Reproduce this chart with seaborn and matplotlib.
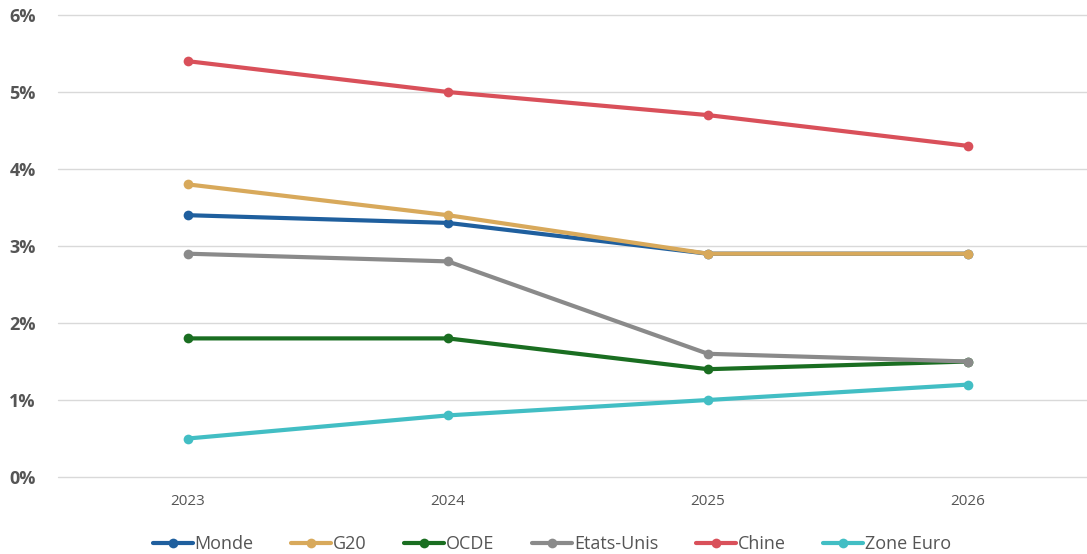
import numpy as np
import pandas as pd
import matplotlib.pyplot as plt
import seaborn as sns

years = ['2023', '2024', '2025', '2026']
series_names = ['Monde', 'G20', 'OCDE', 'Etats-Unis', 'Chine', 'Zone Euro']
monde = [3.4, 3.3, 2.9, 2.9]
g20 = [3.8, 3.4, 2.9, 2.9]
ocde = [1.8, 1.8, 1.4, 1.5]
etats_unis = [2.9, 2.8, 1.6, 1.5]
chine = [5.4, 5.0, 4.7, 4.3]
zone_euro = [0.5, 0.8, 1.0, 1.2]
y_ticks = [0, 1, 2, 3, 4, 5, 6]
y_labels = ['0%', '1%', '2%', '3%', '4%', '5%', '6%']

colors = ['#1f5f9e', '#d8a95b', '#1a6e21', '#8a8a8a', '#d9505a', '#42bec4']

values = [monde, g20, ocde, etats_unis, chine, zone_euro]
rows = []
for name, vals in zip(series_names, values):
    for i, v in enumerate(vals):
        rows.append({'annee': i, 'serie': name, 'valeur': v})
df = pd.DataFrame(rows)

sns.set_style('white')
plt.rcParams['font.family'] = ['Open Sans', 'DejaVu Sans']

fig = plt.figure(figsize=(10.87, 5.54), dpi=100)
ax = fig.add_axes([58 / 1087, 1 - 477 / 554, 1 - 58 / 1087, (477 - 15) / 554])

sns.lineplot(data=df, x='annee', y='valeur', hue='serie', hue_order=series_names,
             palette=colors, marker='o', markersize=7, markeredgewidth=0,
             linewidth=3, ax=ax)

ax.set_xlim(-0.5, 3.458)
ax.set_ylim(0, 6)
ax.set_xticks(range(len(years)))
ax.set_xticklabels(years, fontsize=11, color='#555555')
ax.set_yticks(y_ticks)
ax.set_yticklabels(y_labels, fontsize=13, fontweight='bold', color='#555555')
ax.tick_params(axis='both', length=0)
ax.tick_params(axis='x', pad=12)
ax.tick_params(axis='y', pad=16)
ax.grid(axis='y', color='#d9d9d9', linewidth=1)
for gl in ax.get_ygridlines():
    gl.set_clip_on(False)
ax.set_axisbelow(True)
for s in ax.spines.values():
    s.set_visible(False)
ax.set_xlabel('')
ax.set_ylabel('')

handles, labels = ax.get_legend_handles_labels()
ax.legend(handles, labels, loc='upper center', bbox_to_anchor=(0.48, -0.09),
          ncol=6, frameon=False, fontsize=13, labelcolor='#555555',
          handlelength=2.2, handletextpad=0.1, columnspacing=2.1)

plt.savefig('out.png', dpi=100, facecolor='white')
plt.close()
